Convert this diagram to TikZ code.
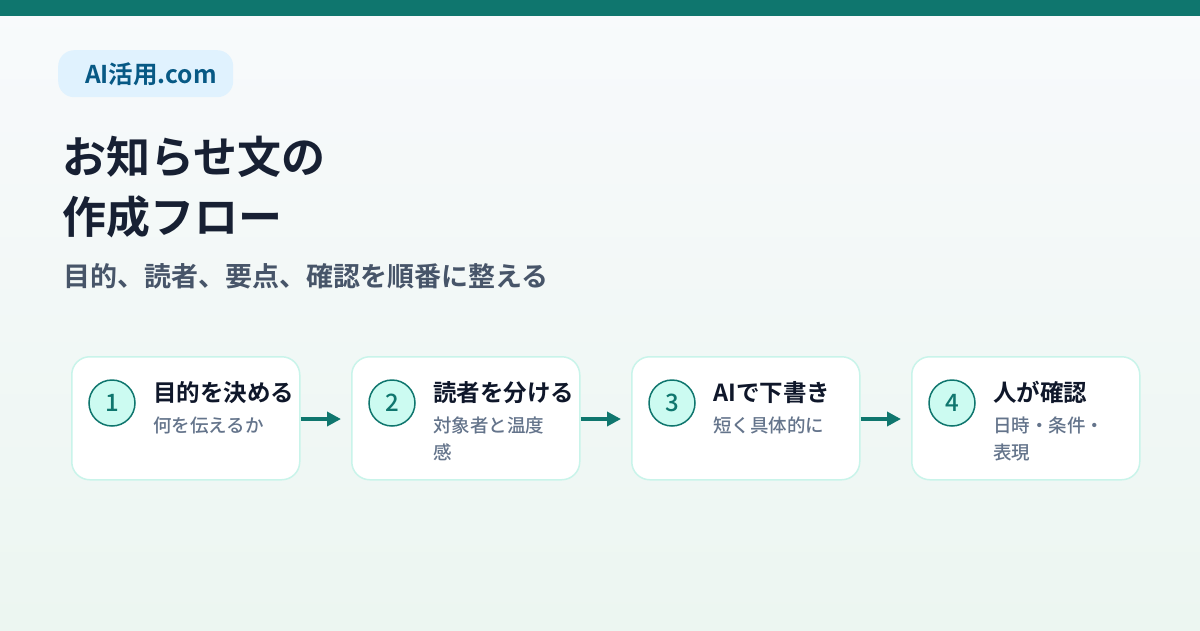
\documentclass[tikz,border=0pt]{standalone}
\usepackage{fontspec}
\setmainfont{Noto Sans CJK JP}[BoldFont={Noto Sans CJK JP Bold}]
\newfontfamily\numfont{Noto Sans CJK JP Medium}
\usetikzlibrary{arrows.meta}
\definecolor{teal}{HTML}{0F766E}
\definecolor{bgtop}{HTML}{F8FAFC}
\definecolor{bgbot}{HTML}{ECF6F1}
\definecolor{pill}{HTML}{E0F2FE}
\definecolor{pilltext}{HTML}{075985}
\definecolor{titlec}{HTML}{172033}
\definecolor{subc}{HTML}{475569}
\definecolor{mint}{HTML}{CCFBF1}
\definecolor{mintb}{HTML}{C9F4EA}
\definecolor{headc}{HTML}{0F172A}
\definecolor{descc}{HTML}{64748B}
\tikzset{
  card/.style={draw=mintb, line width=1.5pt, fill=white, rounded corners=18pt, minimum width=228pt, minimum height=123pt, inner sep=0pt, anchor=north west},
  numc/.style={circle, draw=teal, line width=1.5pt, fill=mint, minimum size=46pt, inner sep=0pt, text=teal, font=\numfont\fontsize{24}{24}\selectfont},
  head/.style={anchor=base west, inner sep=0pt, text=headc, font=\bfseries\fontsize{23.5}{23.5}\selectfont},
  desc/.style={anchor=north west, inner sep=0pt, text=descc, align=left, font=\numfont\fontsize{18.5}{27}\selectfont},
  flow/.style={draw=teal, line width=4pt, -{Triangle[length=14pt,width=14pt]}, shorten >=10pt}
}
\begin{document}
\begin{tikzpicture}[x=1pt,y=-1pt]
\useasboundingbox (0,0) rectangle (1200,630);
\shade[top color=bgtop, bottom color=bgbot] (0,0) rectangle (1200,630);
\fill[teal] (0,0) rectangle (1200,16);
\node[fill=pill, rounded corners=16pt, minimum width=175pt, minimum height=47pt, inner sep=0pt, anchor=north west] (pill) at (58,50) {};
\node[anchor=base west, inner sep=0pt, text=pilltext, font=\bfseries\fontsize{24.5}{24.5}\selectfont] (brand) at (85,83) {AI活用.com};
\node[anchor=base west, inner sep=0pt, text=titlec, font=\bfseries\fontsize{44}{44}\selectfont] (t1) at (62,173) {お知らせ文の};
\node[anchor=base west, inner sep=0pt, text=titlec, font=\bfseries\fontsize{44}{44}\selectfont] (t2) at (62,233) {作成フロー};
\node[anchor=base west, inner sep=0pt, text=subc, font=\bfseries\fontsize{27}{27}\selectfont] (sub) at (63,286) {目的、読者、要点、確認を順番に整える};
% cards
\foreach \i/\x/\h/\d in {1/71/目的を決める/何を伝えるか, 2/351/読者を分ける/対象者と温度\\感, 3/631/AIで下書き/短く具体的に, 4/911/人が確認/日時・条件・\\表現}{
  \node[card] (c\i) at (\x,356) {};
  \node[numc] (n\i) at (\x+41,403) {\i};
  \node[head] (h\i) at (\x+82,401) {\h};
  \node[desc] (d\i) at (\x+82,417) {\d};
}
\draw[flow] (c1.east |- 0,419) -- (c2.west |- 0,419);
\draw[flow] (c2.east |- 0,419) -- (c3.west |- 0,419);
\draw[flow] (c3.east |- 0,419) -- (c4.west |- 0,419);
\end{tikzpicture}
\end{document}
